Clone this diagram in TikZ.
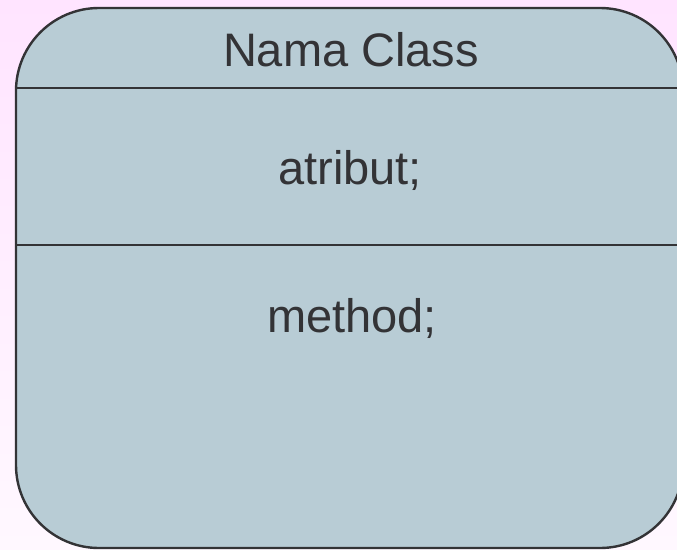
\documentclass[tikz,border=0pt]{standalone}
\usepackage{fontspec}
\setmainfont{Liberation Sans}
\definecolor{bgtop}{HTML}{FFE4FF}
\definecolor{bgbot}{HTML}{FFF8FF}
\definecolor{boxfill}{HTML}{B8CCD5}
\definecolor{linecol}{HTML}{333336}
\begin{document}
\begin{tikzpicture}[x=1pt,y=-1pt,
  lbl/.style={font=\fontsize{47}{50}\selectfont, text=linecol, inner sep=0pt},
  sep/.style={draw=linecol, line width=2.2pt}]
\useasboundingbox (0,0) rectangle (677,549);
\clip (0,0) rectangle (677,549);
\shade[top color=bgtop, bottom color=bgbot] (0,0) rectangle (677,549);
\path[fill=boxfill, draw=linecol, line width=2.4pt, rounded corners=83pt]
  (16,8) rectangle (683,548);
\coordinate (s1l) at (16,88);
\coordinate (s1r) at (683,88);
\coordinate (s2l) at (16,245);
\coordinate (s2r) at (683,245);
\draw[sep] (s1l) -- (s1r);
\draw[sep] (s2l) -- (s2r);
\node[lbl] (name) at (351,50) {Nama Class};
\node[lbl] (attr) at (350,170) {atribut;};
\node[lbl] (meth) at (352,318) {method;};
\end{tikzpicture}
\end{document}
